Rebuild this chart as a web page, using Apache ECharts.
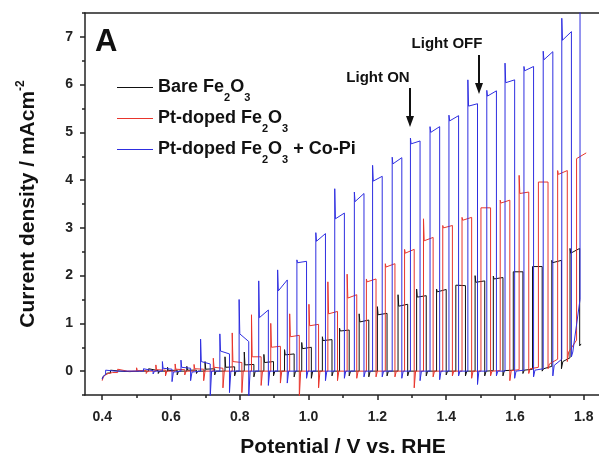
<!DOCTYPE html>
<html>
<head>
<meta charset="utf-8">
<script src="https://cdn.jsdelivr.net/npm/echarts@6/dist/echarts.min.js"></script>
<style>
html,body{margin:0;padding:0;background:#fff;}
#c{width:599px;height:457px;}
</style>
</head>
<body>
<div id="c"></div>
<script>
// ---------- data ----------
const seriesNames = ['Bare Fe2O3', 'Pt-doped Fe2O3', 'Pt-doped Fe2O3 + Co-Pi'];
const xTicks = [0.4, 0.6, 0.8, 1.0, 1.2, 1.4, 1.6, 1.8];
const xMinorTicks = [0.5, 0.7, 0.9, 1.1, 1.3, 1.5, 1.7];
const yTicks = [0, 1, 2, 3, 4, 5, 6, 7];
const yMinorTicks = [-0.5, 0.5, 1.5, 2.5, 3.5, 4.5, 5.5, 6.5, 7.5];

// chopping: light-on duration (V)
const onWidth = 0.028;
const spikeWidth = 0.002;
const recoverWidth = 0.004;

// start of the scans
const blackPreV = [0.400, 0.403, 0.408, 0.416];
const blackPreI = [-0.16, -0.11, -0.07, -0.04];
const redPreV = [0.400, 0.403, 0.408, 0.418, 0.430];
const redPreI = [-0.20, -0.13, -0.08, -0.05, -0.03];
const bluePreV = [0.400, 0.403, 0.406];
const bluePreI = [-0.17, -0.11, -0.07];

// Bare Fe2O3 (black)
const blackOn    = [0.424,0.480,0.535,0.590,0.646,0.699,0.757,0.813,0.870,0.930,0.980,1.040,1.090,1.147,1.200,1.260,1.314,1.372,1.428,1.484,1.537,1.595,1.651,1.707,1.760];
const blackSpike = [0.02,0.03,0.05,0.08,0.10,0.20,0.30,0.40,0.35,0.45,0.60,0.72,0.90,1.20,1.35,1.60,1.72,1.72,1.80,2.00,1.99,2.08,2.19,2.32,2.57];
const blackP0    = [0.00,0.00,0.01,0.01,0.02,0.04,0.08,0.13,0.18,0.34,0.47,0.64,0.84,1.03,1.18,1.36,1.55,1.66,1.76,1.86,1.93,2.05,2.15,2.27,2.47];
const blackP1    = [0.00,0.00,0.01,0.02,0.02,0.05,0.09,0.14,0.20,0.36,0.50,0.66,0.86,1.07,1.21,1.40,1.58,1.71,1.79,1.89,1.96,2.08,2.19,2.32,2.57];
const blackNeg   = [-0.02,-0.03,-0.05,-0.08,-0.05,-0.08,-0.10,-0.12,-0.10,-0.12,-0.15,-0.10,-0.10,-0.12,-0.10,-0.10,-0.10,-0.08,-0.10,-0.10,-0.10,-0.05,0.00,0.05,0.53];
const blackDarkA = [-0.01,-0.01,0.00,0.00,0.00,0.00,0.00,0.00,0.00,0.00,0.00,0.00,0.00,0.00,0.00,0.00,0.00,0.00,0.00,0.00,0.01,0.02,0.05,0.20,0.57];
const blackDarkB = [-0.01,0.00,0.00,0.00,0.00,0.00,0.00,0.00,0.00,0.00,0.00,0.00,0.00,0.00,0.00,0.00,0.00,0.00,0.00,0.01,0.02,0.04,0.10,0.28,0.57];

// Pt-doped Fe2O3 (red)
const redOn    = [0.445,0.500,0.556,0.612,0.667,0.723,0.778,0.834,0.890,0.945,1.001,1.056,1.112,1.168,1.223,1.279,1.334,1.390,1.446,1.501,1.557,1.612,1.668,1.724,1.779];
const redSpike = [0.04,0.07,0.13,0.15,0.14,0.27,0.80,1.18,1.00,1.20,1.40,1.87,2.03,1.93,2.25,2.55,3.19,3.05,3.22,3.42,3.58,4.10,3.96,4.20,4.45];
const redP0    = [0.00,0.01,0.03,0.04,0.05,0.08,0.20,0.30,0.50,0.72,0.95,1.20,1.53,1.87,2.18,2.47,2.73,3.00,3.16,3.38,3.52,3.72,3.92,4.12,4.45];
const redP1    = [0.00,0.01,0.02,0.03,0.04,0.06,0.18,0.30,0.52,0.75,0.98,1.25,1.60,1.93,2.25,2.55,2.80,3.05,3.22,3.42,3.58,3.75,3.96,4.20,4.57];
const redNeg   = [-0.03,-0.05,-0.10,-0.08,-0.20,-0.35,-0.45,-0.30,-0.25,-0.55,-0.35,-0.20,-0.15,-0.12,-0.12,-0.35,-0.12,-0.10,-0.15,-0.10,-0.20,-0.05,0.05,0.20,null];
const redDarkA = [0.00,0.00,0.00,0.00,0.00,0.00,0.00,0.00,0.00,0.00,0.00,0.00,0.00,0.00,0.00,0.00,0.00,0.00,0.00,0.00,0.01,0.05,0.15,0.40,null];
const redDarkB = [0.00,0.00,0.00,0.00,0.00,0.00,0.00,0.00,0.00,0.00,0.00,0.00,0.00,0.00,0.00,0.00,0.00,0.00,0.00,0.01,0.03,0.08,0.25,0.65,null];

// Pt-doped Fe2O3 + Co-Pi (blue)
const blueOn    = [0.410,0.465,0.520,0.575,0.629,0.686,0.742,0.798,0.855,0.910,0.966,1.021,1.076,1.133,1.186,1.243,1.296,1.353,1.408,1.463,1.518,1.571,1.626,1.682,1.736,1.789];
const blueSpike = [0.02,0.03,0.05,0.20,0.23,0.67,0.78,1.50,1.89,2.12,2.33,2.90,3.82,3.75,4.31,4.48,4.88,5.12,5.36,6.10,5.88,6.45,6.38,6.70,7.39,8.00];
const blueP0    = [0.00,0.00,0.01,0.06,0.08,0.20,0.42,0.78,1.12,1.68,2.27,2.72,3.19,3.55,3.98,4.34,4.76,5.00,5.24,5.55,5.76,6.04,6.29,6.52,6.93,null];
const blueP1    = [0.00,0.00,0.01,0.04,0.06,0.15,0.36,0.62,1.28,1.91,2.30,2.88,3.31,3.72,4.08,4.47,4.82,5.12,5.35,5.60,5.87,6.10,6.38,6.69,7.11,null];
const blueNeg   = [-0.03,-0.04,-0.06,-0.22,-0.20,-0.55,-0.45,-0.55,-0.30,-0.25,-0.15,-0.20,-0.15,-0.12,-0.12,-0.15,-0.20,-0.18,-0.10,-0.28,-0.10,-0.15,-0.12,-0.10,0.30,null];
const blueDarkA = [0.00,0.00,0.00,-0.02,-0.02,0.00,0.00,0.00,0.00,0.00,0.00,0.00,0.00,0.00,0.00,0.00,0.00,0.00,0.00,0.00,0.00,0.00,0.02,0.12,0.40,null];
const blueDarkB = [0.00,0.00,0.00,0.00,0.00,0.00,0.00,0.00,0.00,0.00,0.00,0.00,0.00,0.00,0.00,0.00,0.00,0.00,0.00,0.00,0.00,0.02,0.05,0.25,1.50,null];

// ---------- build the chopped traces from the arrays ----------
function buildTrace(pv, pi, on, spike, p0, p1, neg, darkA, darkB) {
  const pts = pv.map((v, k) => [v, pi[k]]);
  let last = pi[pi.length - 1];
  for (let k = 0; k < on.length; k++) {
    pts.push([on[k], last]);
    pts.push([on[k], spike[k]]);
    if (p0[k] == null) break;
    pts.push([on[k] + spikeWidth, p0[k]]);
    pts.push([on[k] + onWidth, p1[k]]);
    if (neg[k] == null) break;
    pts.push([on[k] + onWidth, neg[k]]);
    pts.push([on[k] + onWidth + recoverWidth, darkA[k]]);
    last = darkB[k];
  }
  return pts;
}

const blackData = buildTrace(blackPreV, blackPreI, blackOn, blackSpike, blackP0, blackP1, blackNeg, blackDarkA, blackDarkB);
const redData = buildTrace(redPreV, redPreI, redOn, redSpike, redP0, redP1, redNeg, redDarkA, redDarkB);
const blueData = buildTrace(bluePreV, bluePreI, blueOn, blueSpike, blueP0, blueP1, blueNeg, blueDarkA, blueDarkB);

const colors = ['#111111', '#e8352c', '#2e2ee0'];
const FONT = 'Liberation Sans, Arial, sans-serif';

const chart = echarts.init(document.getElementById('c'), null, {renderer: 'canvas'});

const legendFmt = {
  'Bare Fe2O3': '{t|Bare Fe}{s|2}{t|O}{s|3}',
  'Pt-doped Fe2O3': '{t|Pt-doped Fe}{s|2}{t|O}{s|3}',
  'Pt-doped Fe2O3 + Co-Pi': '{t|Pt-doped Fe}{s|2}{t|O}{s|3}{t| + Co-Pi}'
};

const axisLineStyle = {color: '#222', width: 1.5};
const labelStyle = {fontFamily: FONT, fontWeight: 'bold', fontSize: 14, color: '#222'};

chart.setOption({
  animation: false,
  backgroundColor: '#fff',
  color: colors,
  grid: {left: 85, top: 13, width: 516, height: 382, containLabel: false, outerBoundsMode: 'none'},
  legend: {
    left: 112, top: 67, orient: 'vertical',
    icon: 'rect',
    itemWidth: 36, itemHeight: 1, itemGap: 0,
    data: seriesNames.map((n, i) => ({
      name: n,
      itemStyle: {color: colors[i], borderColor: colors[i], borderWidth: 0, opacity: 1}
    })),
    formatter: n => legendFmt[n],
    textStyle: {
      rich: {
        t: {fontFamily: FONT, fontWeight: 'bold', fontSize: 18, color: '#111', lineHeight: 22},
        s: {fontFamily: FONT, fontWeight: 'bold', fontSize: 11, color: '#111', lineHeight: 12, padding: [20, 0, 0, 0]}
      }
    }
  },
  xAxis: [
    {
      type: 'value', min: 0.35, max: 1.85, position: 'bottom',
      axisLine: {show: true, onZero: false, lineStyle: axisLineStyle},
      axisTick: {show: true, length: 5, customValues: xTicks, lineStyle: {color: '#222', width: 1.5}},
      axisLabel: {customValues: xTicks, margin: 15, formatter: v => v.toFixed(1), ...labelStyle},
      splitLine: {show: false},
      name: 'Potential / V vs. RHE', nameLocation: 'middle', nameGap: 42,
      nameTextStyle: {fontFamily: FONT, fontWeight: 'bold', fontSize: 21, color: '#111'}
    },
    {
      type: 'value', min: 0.35, max: 1.85, position: 'bottom',
      axisLine: {show: false, onZero: false},
      axisTick: {show: true, length: 3, customValues: xMinorTicks, lineStyle: {color: '#222', width: 1.5}},
      axisLabel: {show: false}, splitLine: {show: false}
    },
    {
      type: 'value', min: 0.35, max: 1.85, position: 'top',
      axisLine: {show: true, onZero: false, lineStyle: axisLineStyle},
      axisTick: {show: false}, axisLabel: {show: false}, splitLine: {show: false}
    }
  ],
  yAxis: [
    {
      type: 'value', min: -0.5, max: 7.5, position: 'left',
      axisLine: {show: true, onZero: false, lineStyle: axisLineStyle},
      axisTick: {show: true, length: 5, customValues: yTicks, lineStyle: {color: '#222', width: 1.5}},
      axisLabel: {customValues: yTicks, margin: 12, formatter: v => String(v), ...labelStyle},
      splitLine: {show: false},
      name: '{t|Current density / mAcm}{p|-2}', nameLocation: 'middle', nameGap: 44,
      nameTextStyle: {
        rich: {
          t: {fontFamily: FONT, fontWeight: 'bold', fontSize: 21, color: '#111', lineHeight: 25},
          p: {fontFamily: FONT, fontWeight: 'bold', fontSize: 12, color: '#111', lineHeight: 12, padding: [0, 0, 16, 0]}
        }
      }
    },
    {
      type: 'value', min: -0.5, max: 7.5, position: 'left',
      axisLine: {show: false, onZero: false},
      axisTick: {show: true, length: 3, customValues: yMinorTicks, lineStyle: {color: '#222', width: 1.5}},
      axisLabel: {show: false}, splitLine: {show: false}
    }
  ],
  series: [
    {name: seriesNames[0], type: 'line', data: blackData, showSymbol: false, symbol: 'none', clip: true,
     itemStyle: {color: colors[0]}, lineStyle: {width: 1, color: colors[0]}, z: 2},
    {name: seriesNames[1], type: 'line', data: redData, showSymbol: false, symbol: 'none', clip: true,
     itemStyle: {color: colors[1]}, lineStyle: {width: 1, color: colors[1]}, z: 3},
    {name: seriesNames[2], type: 'line', data: blueData, showSymbol: false, symbol: 'none', clip: true,
     itemStyle: {color: colors[2]}, lineStyle: {width: 1, color: colors[2]}, z: 4}
  ],
  graphic: [
    {type: 'text', left: 95, top: 27, style: {text: 'A', font: 'bold 31px ' + FONT, fill: '#111'}},
    {type: 'text', x: 378, y: 78, style: {text: 'Light ON', font: 'bold 15px ' + FONT, fill: '#111', align: 'center', verticalAlign: 'middle'}},
    {type: 'line', shape: {x1: 410, y1: 88, x2: 410, y2: 118}, style: {stroke: '#111', lineWidth: 2}},
    {type: 'polygon', shape: {points: [[406, 116], [414, 116], [410, 127]]}, style: {fill: '#111'}},
    {type: 'text', x: 447, y: 44, style: {text: 'Light OFF', font: 'bold 15px ' + FONT, fill: '#111', align: 'center', verticalAlign: 'middle'}},
    {type: 'line', shape: {x1: 479, y1: 55, x2: 479, y2: 85}, style: {stroke: '#111', lineWidth: 2}},
    {type: 'polygon', shape: {points: [[475, 83], [483, 83], [479, 94]]}, style: {fill: '#111'}}
  ]
});
</script>
</body>
</html>
